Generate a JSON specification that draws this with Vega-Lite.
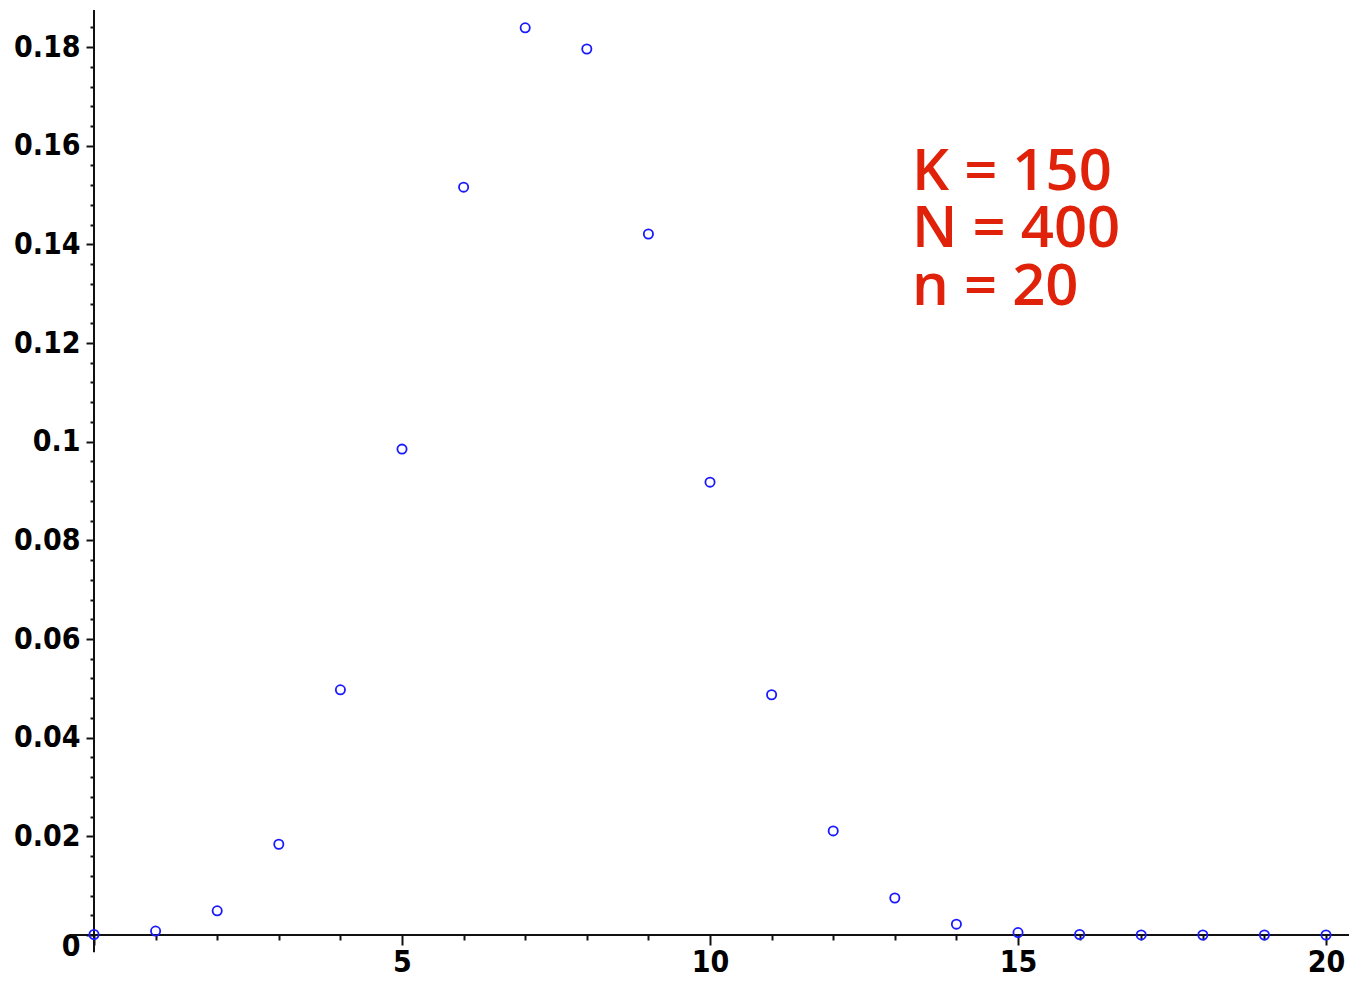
{
  "$schema": "https://vega.github.io/schema/vega-lite/v6.json",
  "width": 1255,
  "height": 925,
  "autosize": {"type": "none"},
  "padding": {"left": 94, "top": 10, "right": 0, "bottom": 47},
  "background": "white",
  "config": {
    "view": {"stroke": null},
    "axis": {"grid": false, "domain": false, "title": null, "labelOverlap": false}
  },
  "datasets": {
    "pmf": [
      {"k": 0, "p": 0.0001},
      {"k": 1, "p": 0.0008},
      {"k": 2, "p": 0.0049},
      {"k": 3, "p": 0.0184},
      {"k": 4, "p": 0.0497},
      {"k": 5, "p": 0.0985},
      {"k": 6, "p": 0.1516},
      {"k": 7, "p": 0.1839},
      {"k": 8, "p": 0.1796},
      {"k": 9, "p": 0.1421},
      {"k": 10, "p": 0.0918},
      {"k": 11, "p": 0.0487},
      {"k": 12, "p": 0.0211},
      {"k": 13, "p": 0.0075},
      {"k": 14, "p": 0.0022},
      {"k": 15, "p": 0.0005},
      {"k": 16, "p": 0.0001},
      {"k": 17, "p": 0.00002},
      {"k": 18, "p": 0},
      {"k": 19, "p": 0},
      {"k": 20, "p": 0}
    ]
  },
  "layer": [
    {
      "data": {"values": [{}]},
      "mark": {"type": "rule", "color": "#111", "strokeWidth": 2},
      "encoding": {
        "x": {"datum": -0.38, "type": "quantitative", "scale": {"domain": [0, 20.373], "nice": false, "zero": false},
          "axis": {"values": [0,1,2,3,4,5,6,7,8,9,10,11,12,13,14,15,16,17,18,19,20], "tickCount": 100, "format": "d", "tickColor": "#111", "tickWidth": 2,
            "tickSize": {"condition": {"test": "datum.value % 5 == 0", "value": 10}, "value": 5},
            "labelExpr": "datum.value % 5 == 0 && datum.value > 0 ? datum.label : ''",
            "labelFont": "DejaVu Sans Condensed, DejaVu Sans", "labelFontWeight": "bold", "labelColor": "#000",
            "labelFontSize": {"condition": {"test": "datum.value % 5 == 0", "value": 30}, "value": 1},
            "labelPadding": 2, "labelFlush": false, "labelOverlap": false}},
        "x2": {"datum": 20.373},
        "y": {"datum": 0, "type": "quantitative", "scale": {"domain": [0, 0.18751], "nice": false, "zero": false},
          "axis": {"values": [0,0.004,0.008,0.012,0.016,0.02,0.024,0.028,0.032,0.036,0.04,0.044,0.048,0.052,0.056,0.06,0.064,0.068,0.072,0.076,0.08,0.084,0.088,0.092,0.096,0.1,0.104,0.108,0.112,0.116,0.12,0.124,0.128,0.132,0.136,0.14,0.144,0.148,0.152,0.156,0.16,0.164,0.168,0.172,0.176,0.18,0.184],
            "tickCount": 100,
            "format": ".2~f", "tickColor": "#111", "tickWidth": 2,
            "tickSize": {"condition": {"test": "abs(datum.value*50 - round(datum.value*50)) < 0.001", "value": 8}, "value": 4},
            "labelExpr": "abs(datum.value*50 - round(datum.value*50)) < 0.001 ? datum.label : ''",
            "labelFontSize": {"condition": {"test": "abs(datum.value*50 - round(datum.value*50)) < 0.001", "value": 30}, "value": 1},
            "labelOffset": {"condition": {"test": "datum.value < 0.001", "value": 11}, "value": 0},
            "labelFont": "DejaVu Sans Condensed, DejaVu Sans", "labelFontWeight": "bold", "labelColor": "#000",
            "labelPadding": 6, "labelFlush": false, "labelOverlap": false}}
      }
    },
    {
      "data": {"values": [{}]},
      "mark": {"type": "rule", "color": "#111", "strokeWidth": 2},
      "encoding": {
        "x": {"datum": 0, "type": "quantitative"},
        "y": {"datum": -0.0035, "type": "quantitative"},
        "y2": {"datum": 0.18751}
      }
    },
    {
      "data": {"name": "pmf"},
      "mark": {"type": "point", "shape": "circle", "filled": false, "color": "#1a1aff", "strokeWidth": 1.8, "size": 85, "opacity": 1},
      "encoding": {
        "x": {"field": "k", "type": "quantitative"},
        "y": {"field": "p", "type": "quantitative"}
      }
    },
    {
      "data": {"values": [{}]},
      "mark": {"type": "text", "align": "left", "baseline": "alphabetic", "font": "Open Sans", "fontWeight": 600, "fontSize": 58, "color": "#e0220a"},
      "encoding": {
        "x": {"datum": 13.28, "type": "quantitative"},
        "y": {"datum": 0.15106, "type": "quantitative"},
        "text": {"value": "K = 150"}
      }
    },
    {
      "data": {"values": [{}]},
      "mark": {"type": "text", "align": "left", "baseline": "alphabetic", "font": "Open Sans", "fontWeight": 600, "fontSize": 58, "color": "#e0220a"},
      "encoding": {
        "x": {"datum": 13.28, "type": "quantitative"},
        "y": {"datum": 0.13947, "type": "quantitative"},
        "text": {"value": "N = 400"}
      }
    },
    {
      "data": {"values": [{}]},
      "mark": {"type": "text", "align": "left", "baseline": "alphabetic", "font": "Open Sans", "fontWeight": 600, "fontSize": 58, "color": "#e0220a"},
      "encoding": {
        "x": {"datum": 13.28, "type": "quantitative"},
        "y": {"datum": 0.12771, "type": "quantitative"},
        "text": {"value": "n = 20"}
      }
    }
  ]
}
